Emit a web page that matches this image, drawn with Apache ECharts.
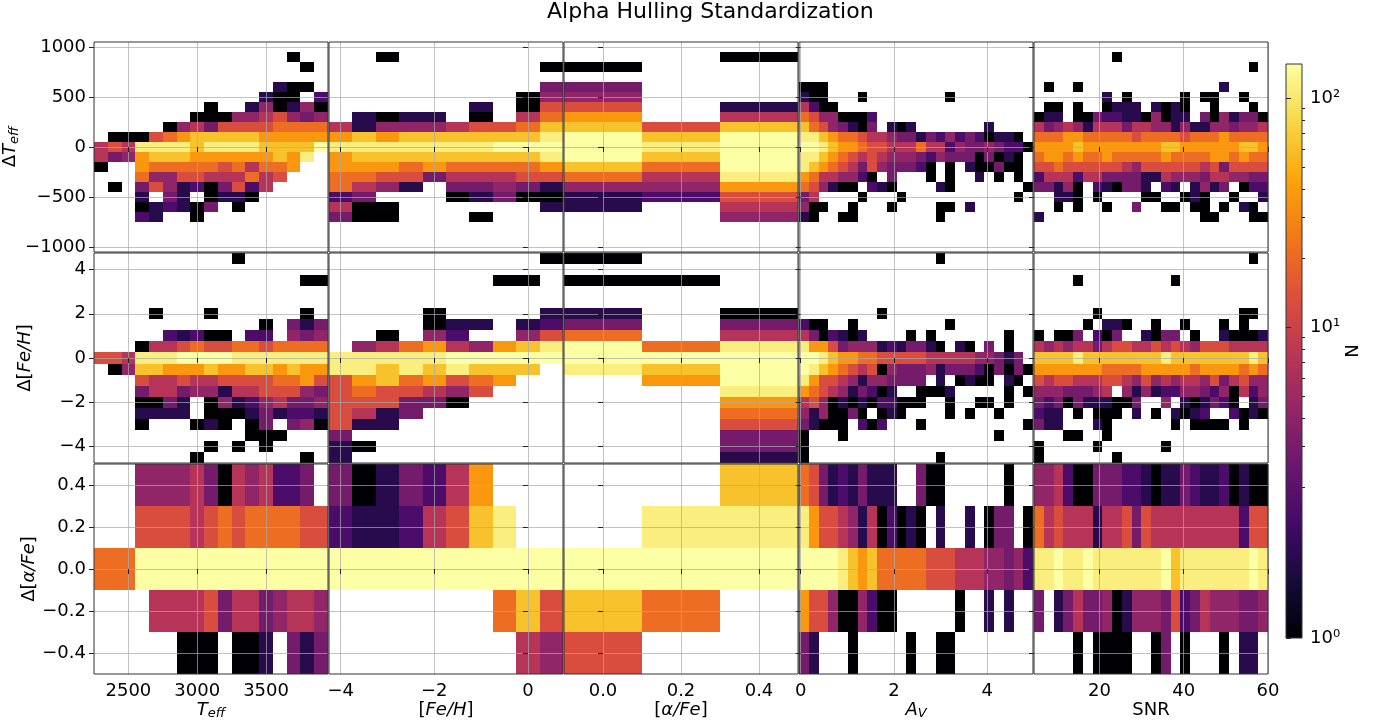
<!DOCTYPE html>
<html>
<head>
<meta charset="utf-8">
<title>Alpha Hulling Standardization</title>
<script src="https://cdn.jsdelivr.net/npm/echarts@6/dist/echarts.min.js"></script>
<style>
  html, body { margin: 0; padding: 0; background: #fff; }
  #chart { width: 1387px; height: 724px; }
</style>
</head>
<body>
<div id="chart"></div>
<script>
// count per level code ('.' = empty bin)
var levelCounts = {'0': 1, '1': 2, '2': 3, '3': 5, '4': 7, '5': 11, '6': 18, '7': 28, '8': 45, '9': 70, 'A': 115, 'B': 140};

// bins: [min, max, count]
var teffBins = [2250, 3950, 17];
var fehBins = [-4.25, 0.75, 10];
var alphaBins = [-0.1, 0.5, 3];
var avBins = [-0.036, 4.98, 24];
var snrBins = [4.47, 60, 24];
var dTeffBins = [-1050, 1050, 21];
var dFehBins = [-4.75, 4.75, 19];
var dAlphaBins = [-0.5, 0.5, 5];

// tick values
var teffTicks = [2500, 3000, 3500];
var fehTicks = [-4, -2, 0];
var alphaTicks = [0, 0.2, 0.4];
var avTicks = [0, 2, 4];
var snrTicks = [20, 40, 60];
var dTeffTicks = [-1000, -500, 0, 500, 1000];
var dFehTicks = [-4, -2, 0, 2, 4];
var dAlphaTicks = [-0.4, -0.2, 0, 0.2, 0.4];
var cbarLabels = ['10\u2070', '10\u00b9', '10\u00b2'];
var cbarMajor = [10, 100];
var cbarMinor = [2, 3, 4, 5, 6, 7, 8, 9, 20, 30, 40, 50, 60, 70, 80, 90];

// ---- row 1: delta Teff (top bin first) ----
var tT = [
  ".................", "..............0..", "...............0.", ".................",
  ".............100.", "............100.2", "........0..140140", ".......0004456434",
  ".....045366667777", ".0006789999988888", "565AAAA9AAAA9999B", "534899988888898A.",
  "0..877777675778..", "...74466555756...", ".0.3641203625....", "...1.31.0110.....",
  "...012103.0......", "...21..0.........", ".................", ".................",
  "................."
];
var tF = [
  "..........", "..0.......", ".........0", "..........", ".........3", "........04",
  "......1.06", ".1011.0.57", "5144456679", "898999999A", "AAAAAAABBB", "899999999A",
  "8887877778", "7766355566", "7541.33431", "23...01300", "500......1", "300...0...",
  "..........", "..........", ".........."
];
var tA = [
  "...", "..0", "0..", "...", "3..", "4..", "6.1", "8.5", "969", "B9B", "BAB",
  "B9B", "97B", "75A", "448", "126", "1.5", "..4", "...", "...", "..."
];
var tV = [
  "........................", "........................", "........................",
  "........................", "000.....................", "100...0........0........",
  "5200....................", "76440002................", "97643103.101.......1....",
  "AA987765543313242320110.", "BBA988766555755243343220", "AA987656544432433303010.",
  "A9876536433320.0.100300.", "87554420.3...0.0..1.0.0.", "764100.210....10.......0",
  "35....0...0...........0.", "400..0...0....00.1......", "10..00........0.........",
  "........................", "........................", "........................"
];
var tS = [
  "........................", "........0...............", "......................0.",
  "........................", ".0..0..............1....", ".......1.0.....0.00..0..",
  ".00.0..0111.1010..0...0.", "011.003221104011.3041330", "534541555355441411443445",
  "777887777767777677787777", "888898888888899888888998", "788787787777787777887877",
  "667666666546666665636666", "255525533331154443554433", "33140.210331.21.1413.022",
  "..110.0....00..010..0..1", "..0.0..0..3..00.00.0.10.", "1................00...00",
  "........................", "........................", "........................"
];

// ---- row 2: delta [Fe/H] ----
var mT = [
  "..........0......", ".................", "...............00", ".................",
  ".................", "....0...0......0.", "............0.313", ".....21200.22.434",
  "...05567667767777", "665AAABBBBAAAAAAA", ".0499888988998988", "...65565566667786",
  "...35534415566643", "...0031.041245334", "...1111.000131221", "...0...010.03.340",
  "...........000...", "........0.0.0....", ".......0.......0."
];
var mF = [
  ".........0", "..........", ".......00.", "..........", "..........", "....0....1",
  "....011.12", "..0.42..46", ".45785489A", "AAAAABBBBB", "AA9A9A999.", "68978678..",
  "6766546...", "666330....", "6513......", "611.......", "3.........", "10........",
  "1........."
];
var mA = [
  "0..", "...", "00.", "...", "...", "1.0", "3.3", "7.5", "B7A", "BBB",
  "A9B", ".8B", "..A", "..8", "..7", "..6", "..3", "..3", "..1"
];
var mV = [
  "..............0.........", "........................", "........................",
  "........................", "........................", "........0...............",
  "200..0.........0........", "5302101....0.0.......0..", "A88634441213310.10.3.0..",
  "BBA98877666665555544313.", "BA9876560433341333203030", "A866541443333.1.0100.10.",
  "8765413201..0001.....0.0", "5640101022000..0..00.0..", "4140030.010....0.0..0...",
  "31000.202...0..........0", "0...0...............0...", "0.......................",
  "0.............0........."
];
var mS = [
  "......................0.", "........................", "....0.........0.........",
  "........................", "........................", "......0..............00.",
  ".....0.110..0..0...0.0..", "0.003.203..1033.0..10001", "545455356655656546665555",
  "9999A99999999A99999999A9", "888888877778888878888787", "656655566546454554635644",
  "44433345.414122443240524", "32303111003..4.101320.13", "211.0.000.1.0.1012..2010",
  "311...10......0.0000.0..", "...00..0................", "0.....0......0..........",
  "0.......0..............."
];

// ---- row 3: delta [alpha/Fe] ----
var bT = ["...4444530545223.", "...66665676777766", "777BBBBBBBBBBBBBB", "....5555635534554", "......000.001.313"];
var bF = ["3013258...", "2112569A..", "BBBBBBBBBB", ".......796", "........54"];
var bA = ["..9", ".AA", "BBB", "97.", "6.."];
var bV = [
  "7631213111..300......0..", "A866541502010.1..1.033.0", "BBBBA9897777766655544342",
  "8664004200......0..1.1..", "31...0.....0..00........"
];
var bS = [
  "445200333221011321120100", "756555155636555555555266", "AABAABAAAAAAAB9AAAAAAABA",
  "3.1353340144436235444334", "....0.0000..03.0...0.11."
];

var FONT = 'DejaVu Sans';
var GRIDC = 'rgba(170,170,170,0.7)';
var inferno = ['#000004', '#160b39', '#420a68', '#6a176e', '#932667', '#bc3754',
               '#dd513a', '#f37819', '#fca50a', '#f6d746', '#fcffa4'];

var panels = [[tT, tF, tA, tV, tS], [mT, mF, mA, mV, mS], [bT, bF, bA, bV, bS]];
var colBins = [teffBins, fehBins, alphaBins, avBins, snrBins];
var rowBins = [dTeffBins, dFehBins, dAlphaBins];
var colTicks = [teffTicks, fehTicks, alphaTicks, avTicks, snrTicks];
var rowTicks = [dTeffTicks, dFehTicks, dAlphaTicks];
var colDec = [0, 0, 1, 0, 0];
var rowDec = [0, 0, 1];
var colLeft = [94, 329, 564, 799, 1034];
var rowTop = [42, 253, 464];
var panelW = 234, panelH = 210;

// colour bar extent in log10(N), as drawn in the reference
var cMax = Math.log10(140.7);
var cMin = cMax - 574 / 229;
var cbarMajorPos = [cMin].concat(cbarMajor.map(Math.log10));

var xNames = ['{i|T}{s|eff}', '{u|[}{i|Fe/H}{u|]}', '{u|[}{i|α/Fe}{u|]}', '{i|A}{s|V}', '{u|SNR}'];
var yNames = ['{u|Δ}{i|T}{s|eff}', '{u|Δ[}{i|Fe/H}{u|]}', '{u|Δ[}{i|α/Fe}{u|]}'];
var yGaps = [66, 60, 54];
var rich = {
  u: {fontFamily: FONT, fontSize: 18, color: '#000', lineHeight: 18, verticalAlign: 'top'},
  i: {fontFamily: FONT, fontSize: 18, fontStyle: 'italic', color: '#000', lineHeight: 18, verticalAlign: 'top'},
  s: {fontFamily: FONT, fontSize: 13, fontStyle: 'italic', color: '#000', lineHeight: 26}
};

function fmt(d) {
  return function (v) { return v.toFixed(d).replace('-', '\u2212'); };
}

function cellsOf(rows, xb, yb) {
  var dx = (xb[1] - xb[0]) / xb[2], dy = (yb[1] - yb[0]) / yb[2];
  var out = [];
  rows.forEach(function (line, r) {
    var yi = yb[2] - 1 - r;
    for (var i = 0; i < line.length; i++) {
      var c = line.charAt(i);
      if (c === '.') continue;
      out.push([xb[0] + i * dx, xb[0] + (i + 1) * dx, yb[0] + yi * dy, yb[0] + (yi + 1) * dy,
                Math.log10(levelCounts[c])]);
    }
  });
  return out;
}

function renderCell(params, api) {
  var a = api.coord([api.value(0), api.value(2)]);
  var b = api.coord([api.value(1), api.value(3)]);
  var x0 = Math.round(a[0]), x1 = Math.round(b[0]);
  var y0 = Math.round(b[1]), y1 = Math.round(a[1]);
  return {
    type: 'rect',
    shape: {x: x0, y: y0, width: x1 - x0, height: y1 - y0},
    style: {fill: api.visual('color')}
  };
}

var grids = [], xAxes = [], yAxes = [], series = [];
for (var r = 0; r < 3; r++) {
  for (var c = 0; c < 5; c++) {
    var g = grids.length;
    grids.push({left: colLeft[c], top: rowTop[r], width: panelW, height: panelH,
                show: true, borderColor: '#333', borderWidth: 1, backgroundColor: 'transparent', z: 3});
    xAxes.push({
      gridIndex: g, type: 'value', min: colBins[c][0], max: colBins[c][1], z: 2,
      axisLine: {show: false},
      axisTick: {show: true, length: 5, lineStyle: {color: '#222'}, customValues: colTicks[c]},
      axisLabel: {show: r === 2, customValues: colTicks[c], formatter: fmt(colDec[c]),
                  color: '#000', fontSize: 18, fontFamily: FONT, margin: 8},
      splitLine: {show: true, lineStyle: {color: GRIDC, width: 1}},
      name: r === 2 ? xNames[c] : '', nameLocation: 'middle', nameGap: 27,
      nameTextStyle: {rich: rich}
    });
    yAxes.push({
      gridIndex: g, type: 'value', min: rowBins[r][0], max: rowBins[r][1], z: 2,
      axisLine: {show: false},
      axisTick: {show: true, length: 5, lineStyle: {color: '#222'}, customValues: rowTicks[r]},
      axisLabel: {show: c === 0, customValues: rowTicks[r], formatter: fmt(rowDec[r]),
                  color: '#000', fontSize: 18, fontFamily: FONT, margin: 8},
      splitLine: {show: true, lineStyle: {color: GRIDC, width: 1}},
      name: c === 0 ? yNames[r] : '', nameLocation: 'middle', nameGap: yGaps[r], nameRotate: 90,
      nameTextStyle: {rich: rich}
    });
    series.push({
      type: 'custom', xAxisIndex: g, yAxisIndex: g, z: 1, silent: true, clip: true,
      encode: {x: [0, 1], y: [2, 3]},
      renderItem: renderCell,
      data: cellsOf(panels[r][c], colBins[c], rowBins[r])
    });
  }
}

// colour bar
var cb = grids.length;
grids.push({left: 1286, top: 64, width: 16, height: 574, show: true,
            borderColor: '#333', borderWidth: 1, backgroundColor: 'transparent', z: 3});
xAxes.push({gridIndex: cb, type: 'value', min: 0, max: 1, show: false});
yAxes.push({
  gridIndex: cb, type: 'value', position: 'right', min: cMin, max: cMax, z: 2,
  axisLine: {show: false}, splitLine: {show: false},
  axisTick: {show: true, length: 5, lineStyle: {color: '#222'}, customValues: cbarMajorPos},
  axisLabel: {show: true, customValues: cbarMajorPos, color: '#000', fontSize: 18,
              fontFamily: FONT, margin: 8,
              formatter: function (v) {
                var k = cbarMajorPos.indexOf(v);
                return cbarLabels[k < 0 ? 0 : k];
              }},
  name: 'N', nameLocation: 'middle', nameGap: 40, nameRotate: 90,
  nameTextStyle: {fontFamily: FONT, fontSize: 18, color: '#000'}
});
yAxes.push({
  gridIndex: cb, type: 'value', position: 'right', min: cMin, max: cMax, z: 2,
  axisLine: {show: false}, splitLine: {show: false}, axisLabel: {show: false},
  axisTick: {show: true, length: 3, lineStyle: {color: '#222'}, customValues: cbarMinor.map(Math.log10)}
});
series.push({
  type: 'custom', xAxisIndex: cb, yAxisIndex: cb, z: 1, silent: true,
  data: [[0.5, 1]],
  renderItem: function (params, api) {
    var cs = params.coordSys;
    var stops = inferno.map(function (col, i) { return {offset: i / (inferno.length - 1), color: col}; });
    return {
      type: 'rect',
      shape: {x: cs.x, y: cs.y, width: cs.width, height: cs.height},
      style: {fill: new echarts.graphic.LinearGradient(0, 1, 0, 0, stops)}
    };
  }
});

var chart = echarts.init(document.getElementById('chart'));
chart.setOption({
  animation: false,
  backgroundColor: '#fff',
  title: {
    text: 'Alpha Hulling Standardization', left: 547, top: 1, padding: 0,
    textStyle: {fontFamily: FONT, fontSize: 22, fontWeight: 'normal', color: '#000'}
  },
  visualMap: {
    type: 'continuous', show: false, min: 0, max: cMax, dimension: 4,
    seriesIndex: [0, 1, 2, 3, 4, 5, 6, 7, 8, 9, 10, 11, 12, 13, 14],
    inRange: {color: inferno}
  },
  grid: grids,
  xAxis: xAxes,
  yAxis: yAxes,
  series: series
});
</script>
</body>
</html>
